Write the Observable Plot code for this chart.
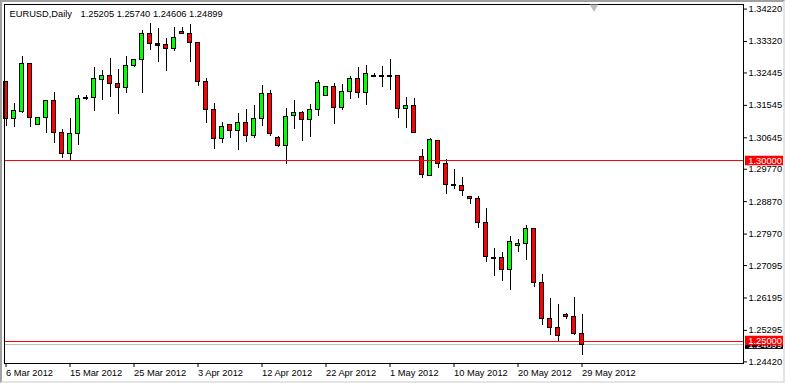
<!DOCTYPE html>
<html><head><meta charset="utf-8">
<script src="https://cdn.jsdelivr.net/npm/d3@7"></script>
<script src="https://cdn.jsdelivr.net/npm/@observablehq/plot@0.6"></script>
<style>
body{margin:0;background:#fff;}
#wrap{position:relative;width:785px;height:383px;overflow:hidden;background:#fff;}
#wrap svg{display:block;position:absolute;left:0;top:0;}
#border{position:absolute;left:0;top:0;width:785px;height:383px;box-sizing:border-box;border-top:2px solid #a0a0a0;border-left:2px solid #a0a0a0;border-right:2px solid #e4e4e4;border-bottom:2px solid #e4e4e4;pointer-events:none;}
</style></head><body><div id="wrap"><div id="border"></div></div>
<script>
const symbolName = "EURUSD,Daily";
const lastQuote = "1.25205 1.25740 1.24606 1.24899";

const dates = [
"2012-03-06","2012-03-07","2012-03-08","2012-03-09","2012-03-11","2012-03-12","2012-03-13","2012-03-14","2012-03-15","2012-03-16",
"2012-03-18","2012-03-19","2012-03-20","2012-03-21","2012-03-22","2012-03-23","2012-03-25","2012-03-26","2012-03-27","2012-03-28",
"2012-03-29","2012-03-30","2012-04-01","2012-04-02","2012-04-03","2012-04-04","2012-04-05","2012-04-06","2012-04-08","2012-04-09",
"2012-04-10","2012-04-11","2012-04-12","2012-04-13","2012-04-15","2012-04-16","2012-04-17","2012-04-18","2012-04-19","2012-04-20",
"2012-04-22","2012-04-23","2012-04-24","2012-04-25","2012-04-26","2012-04-27","2012-04-29","2012-04-30","2012-05-01","2012-05-02",
"2012-05-03","2012-05-04","2012-05-06","2012-05-07","2012-05-08","2012-05-09","2012-05-10","2012-05-11","2012-05-13","2012-05-14",
"2012-05-15","2012-05-16","2012-05-17","2012-05-18","2012-05-20","2012-05-21","2012-05-22","2012-05-23","2012-05-24","2012-05-25",
"2012-05-27","2012-05-28","2012-05-29"];

const open = [
1.3219,1.3117,1.3137,1.3269,1.3101,1.3119,1.3166,1.3077,1.3019,1.3074,
1.3173,1.3174,1.3224,1.3235,1.3213,1.3202,1.3264,1.3280,1.3352,1.3324,
1.3321,1.3310,1.3358,1.3352,1.3327,1.3219,1.3141,1.3060,1.3099,1.3083,
1.3105,1.3069,1.3116,1.3185,1.3063,1.3041,1.3124,1.3132,1.3113,1.3141,
1.3180,1.3205,1.3146,1.3191,1.3227,1.3188,1.3234,1.3235,1.3235,1.3235,
1.3144,1.3152,1.3010,1.2958,1.3055,1.2991,1.2932,1.2930,1.2899,1.2894,
1.2827,1.2731,1.2730,1.2696,1.2763,1.2769,1.2810,1.2660,1.2560,1.2535,
1.2573,1.2566,1.25205];
const high = [
1.3222,1.3161,1.3289,1.3271,1.3122,1.3169,1.3189,1.3088,1.3117,1.3183,
1.3183,1.3261,1.3250,1.3284,1.3253,1.3289,1.3280,1.3363,1.3383,1.3369,
1.3341,1.3372,1.3372,1.3378,1.3329,1.3230,1.3161,1.3108,1.3102,1.3131,
1.3142,1.3155,1.3210,1.3197,1.3069,1.3145,1.3169,1.3138,1.3158,1.3224,
1.3205,1.3216,1.3213,1.3236,1.3261,1.3266,1.3244,1.3263,1.3281,1.3238,
1.3177,1.3174,1.3031,1.3063,1.3058,1.3004,1.2977,1.2955,1.2902,1.2902,
1.2867,1.2757,1.2746,1.2791,1.2783,1.2821,1.2813,1.2685,1.2619,1.2602,
1.2577,1.2621,1.25740];
const low = [
1.3097,1.3092,1.3131,1.3093,1.3100,1.3076,1.3048,1.3006,1.2999,1.3044,
1.3169,1.3137,1.3169,1.3176,1.3129,1.3187,1.3259,1.3187,1.3306,1.3273,
1.3248,1.3304,1.3352,1.3273,1.3208,1.3104,1.3031,1.3048,1.3062,1.3029,
1.3051,1.3063,1.3097,1.3069,1.3038,1.2990,1.3087,1.3054,1.3065,1.3123,
1.3180,1.3101,1.3139,1.3170,1.3173,1.3154,1.3233,1.3203,1.3195,1.3118,
1.3090,1.3076,1.2952,1.2958,1.2980,1.2908,1.2921,1.2902,1.2880,1.2813,
1.2719,1.2680,1.2665,1.2641,1.2746,1.2723,1.2649,1.2544,1.2516,1.2496,
1.2560,1.2516,1.24606];
const close = [
1.3117,1.3139,1.3269,1.3120,1.3119,1.3166,1.3077,1.3019,1.3074,1.3171,
1.3174,1.3227,1.3235,1.3213,1.3202,1.3263,1.3280,1.3352,1.3324,1.3322,
1.3310,1.3341,1.3352,1.3327,1.3219,1.3141,1.3060,1.3094,1.3083,1.3105,
1.3069,1.3116,1.3185,1.3074,1.3041,1.3121,1.3132,1.3113,1.3141,1.3216,
1.3205,1.3146,1.3191,1.3227,1.3188,1.3241,1.3235,1.3234,1.3234,1.3144,
1.3152,1.3079,1.2960,1.3058,1.2991,1.2933,1.2931,1.2916,1.2894,1.2827,
1.2733,1.2730,1.2696,1.2774,1.2769,1.2810,1.2660,1.2560,1.2535,1.2513,
1.2566,1.2519,1.24899];

const priceTicks = ["1.34220","1.33320","1.32445","1.31545","1.30645","1.29770","1.28870","1.27970","1.27095","1.26195","1.25295","1.24420"];
const dateTicks = ["2012-03-06","2012-03-15","2012-03-25","2012-04-03","2012-04-12","2012-04-22","2012-05-01","2012-05-10","2012-05-20","2012-05-29"];
const levels = [1.30000, 1.25000];
const bid = close[close.length - 1];
const chartShiftIdx = 73.5;

const months = ["Jan","Feb","Mar","Apr","May","Jun","Jul","Aug","Sep","Oct","Nov","Dec"];
const fmtDate = s => { const [y, m, d] = s.split("-"); return `${+d} ${months[+m - 1]} ${y}`; };

const bars = dates.map((d, i) => ({i, date: d, o: open[i], h: high[i], l: low[i], c: close[i]}));
const dojis = bars.filter(d => Math.abs(d.c - d.o) < 0.0002);

const xDomain = [-0.1875, 92.1875];
const yDomain = [1.24375, 1.3434722];
const xR = xDomain[1];
const boxHalf = 0.00132;
const crisp = "crispEdges";

const chart = Plot.plot({
  width: 785, height: 383,
  marginLeft: 4, marginRight: 42, marginTop: 4, marginBottom: 20,
  x: {type: "linear", domain: xDomain, axis: null},
  y: {type: "linear", domain: yDomain, axis: null},
  color: {type: "identity"},
  style: {background: "transparent", fontFamily: "'Liberation Sans', Arial, sans-serif", fontSize: "9.3px", color: "black", overflow: "visible"},
  marks: [
    Plot.ruleY([bid], {stroke: "#c0c0c0", shapeRendering: crisp}),
    Plot.ruleX(bars, {x: "i", y1: "l", y2: "h", stroke: "black", shapeRendering: crisp}),
    Plot.rect(bars, {x1: d => d.i - 0.25, x2: d => d.i + 0.25, y1: "o", y2: "c",
      fill: d => d.c > d.o ? "#00ff00" : "#ff0000", stroke: "black", strokeWidth: 1, shapeRendering: crisp}),
    Plot.ruleY(dojis, {y: "c", x1: d => d.i - 0.3125, x2: d => d.i + 0.3125, stroke: "black", shapeRendering: crisp}),
    Plot.ruleY(levels, {stroke: "#ff0000", shapeRendering: crisp}),
    Plot.frame({stroke: "black", shapeRendering: crisp}),
    Plot.axisY(priceTicks.map(Number), {anchor: "right", tickSize: 3, tickPadding: 2, label: null,
      tickFormat: d => d.toFixed(5), textAnchor: "start", fill: "black", stroke: "black"}),
    Plot.axisX(dateTicks.map(d => dates.indexOf(d)), {anchor: "bottom", tickSize: 4, tickPadding: 2, label: null,
      tickFormat: i => fmtDate(dates[i]), textAnchor: "start", fill: "black", stroke: "black"}),
    Plot.rect([bid], {y1: d => d - boxHalf, y2: d => d + boxHalf, x1: () => xR + 0.25, x2: () => xR + 5, fill: "black"}),
    Plot.text([bid], {y: d => d, x: () => xR + 0.6, text: d => d.toFixed(5), textAnchor: "start", fill: "white"}),
    Plot.rect(levels, {y1: d => d - boxHalf, y2: d => d + boxHalf, x1: () => xR + 0.25, x2: () => xR + 5, fill: "#ff0000"}),
    Plot.text(levels, {y: d => d, x: () => xR + 0.6, text: d => d.toFixed(5), textAnchor: "start", fill: "white"}),
    Plot.text([symbolName], {frameAnchor: "top-left", textAnchor: "start", lineAnchor: "top", dx: 5, dy: 6, text: d => d, fill: "black"}),
    Plot.text([lastQuote], {frameAnchor: "top-left", textAnchor: "start", lineAnchor: "top", dx: 76, dy: 6, text: d => d, fill: "black"}),
    Plot.dot([chartShiftIdx], {x: d => d, frameAnchor: "top", symbol: "triangle", rotate: 180, r: 3.2, fill: "#c0c0c0", stroke: "none", dy: 2.5})
  ]
});
document.getElementById("wrap").insertBefore(chart, document.getElementById("border"));
</script></body></html>
